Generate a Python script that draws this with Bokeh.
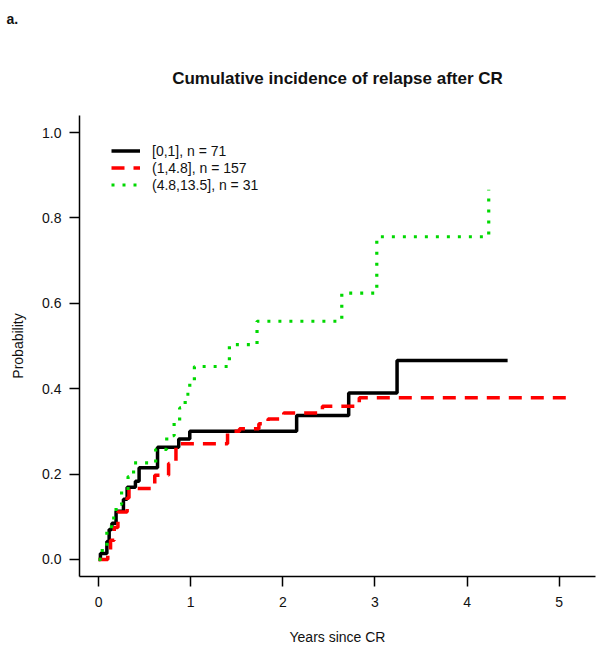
from bokeh.plotting import figure
from bokeh.models import Range1d, FixedTicker, PrintfTickFormatter, Legend, LegendItem, Title
from bokeh.embed import file_html
from bokeh.resources import INLINE

# ---- data ----
t_black = [0, 0.02, 0.09, 0.115, 0.145, 0.19, 0.27, 0.31, 0.40, 0.44, 0.64, 0.87, 0.99, 2.15, 2.715, 3.24, 4.44]
p_black = [0, 0.014, 0.042, 0.070, 0.085, 0.113, 0.141, 0.169, 0.183, 0.215, 0.263, 0.282, 0.300, 0.337, 0.390, 0.466, 0.466]

t_red = [0, 0.10, 0.13, 0.17, 0.21, 0.31, 0.33, 0.61, 0.76, 0.84, 1.40, 1.53, 1.74, 1.84, 2.01, 2.43, 2.83, 5.16]
p_red = [0, 0.013, 0.045, 0.075, 0.111, 0.144, 0.166, 0.197, 0.225, 0.271, 0.300, 0.306, 0.318, 0.329, 0.343, 0.359, 0.379, 0.379]

t_green = [0, 0.04, 0.09, 0.14, 0.19, 0.25, 0.32, 0.38, 0.62, 0.74, 0.82, 0.88, 0.94, 0.99, 1.04, 1.42, 1.72, 2.64, 3.02, 4.235]
p_green = [0, 0.032, 0.065, 0.097, 0.129, 0.161, 0.194, 0.226, 0.258, 0.290, 0.323, 0.355, 0.387, 0.419, 0.452, 0.503, 0.558, 0.624, 0.756, 0.866]

series_labels = ["[0,1], n = 71", "(1,4.8], n = 157", "(4.8,13.5], n = 31"]
x_ticks = [0, 1, 2, 3, 4, 5]
y_ticks = [0.0, 0.2, 0.4, 0.6, 0.8, 1.0]
title_text = "Cumulative incidence of relapse after CR"
panel_tag = "a."
x_label = "Years since CR"
y_label = "Probability"

FONT = "Liberation Sans"

p = figure(width=602, height=652,
           x_range=Range1d(-0.207, 5.394), y_range=Range1d(-0.04, 1.04),
           output_backend="svg", toolbar_location=None,
           min_border_left=79, min_border_right=7, min_border_top=115, min_border_bottom=76)
p.outline_line_color = None
p.xgrid.visible = False
p.ygrid.visible = False
p.background_fill_color = "white"
p.border_fill_color = "white"

r_black = p.step(t_black, p_black, mode="after", line_color="black", line_width=3.5)
r_red = p.step(t_red, p_red, mode="after", line_color="#ff0000", line_width=3.5, line_dash="13 9")
r_green = p.step(t_green, p_green, mode="after", line_color="#00d800", line_width=3.2, line_dash="3 8")

for ax, ticks in ((p.xaxis[0], x_ticks), (p.yaxis[0], y_ticks)):
    ax.ticker = FixedTicker(ticks=ticks)
    ax.minor_tick_line_color = None
    ax.major_tick_out = 10
    ax.major_tick_in = 0
    ax.axis_line_color = "black"
    ax.axis_line_width = 1.5
    ax.major_tick_line_color = "black"
    ax.major_tick_line_width = 1.5
    ax.major_label_text_font = FONT
    ax.major_label_text_font_size = "14px"
    ax.major_label_text_color = "#111111"
    ax.axis_label_text_font = FONT
    ax.axis_label_text_font_size = "14px"
    ax.axis_label_text_font_style = "normal"
    ax.axis_label_text_color = "#111111"

p.yaxis[0].formatter = PrintfTickFormatter(format="%.1f")
p.xaxis[0].axis_label = x_label
p.yaxis[0].axis_label = y_label
p.xaxis[0].major_label_standoff = 10
p.xaxis[0].axis_label_standoff = 19
p.yaxis[0].major_label_standoff = 8
p.yaxis[0].axis_label_standoff = 13

legend = Legend(items=[LegendItem(label=series_labels[0], renderers=[r_black]),
                       LegendItem(label=series_labels[1], renderers=[r_red]),
                       LegendItem(label=series_labels[2], renderers=[r_green])],
                location=(32, 383), padding=0, margin=0, spacing=0,
                glyph_width=29, glyph_height=17, label_height=17, label_standoff=12,
                label_text_font=FONT, label_text_font_size="14px", label_text_color="#111111",
                background_fill_alpha=0, border_line_alpha=0)
p.add_layout(legend, "center")

# top-most: panel tag
p.title.text = panel_tag
p.title.align = "left"
p.title.offset = -73
p.title.vertical_align = "top"
p.title.standoff = 19
p.title.text_font = FONT
p.title.text_font_size = "14px"
p.title.text_font_style = "bold"
p.title.text_color = "#111111"

# nearest the frame: main title
p.add_layout(Title(text=title_text, align="center", standoff=56,
                   text_font=FONT, text_font_size="17px", text_font_style="bold",
                   text_color="#111111"), "above")

open("out.html", "w").write(file_html(p, INLINE))
